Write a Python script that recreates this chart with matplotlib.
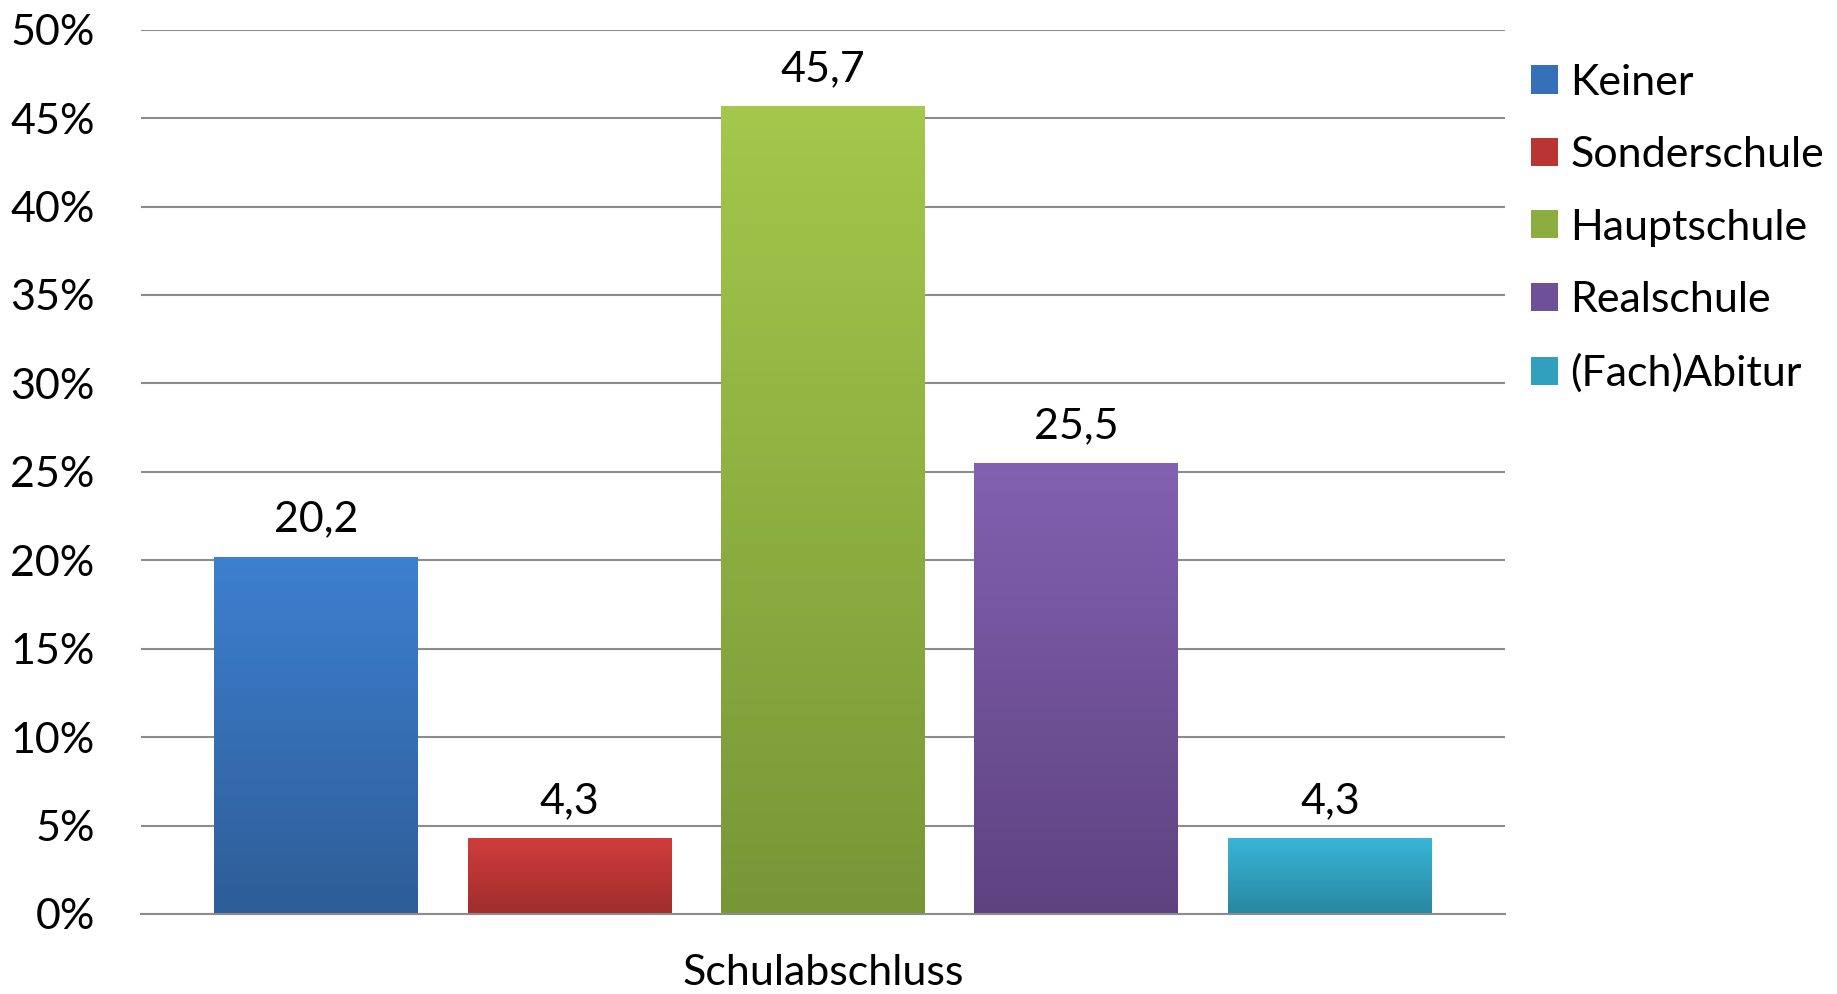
import numpy as np
import matplotlib
matplotlib.use("Agg")
import matplotlib.pyplot as plt
from matplotlib.colors import LinearSegmentedColormap
from matplotlib.patches import Patch

plt.rcParams['font.family'] = ['Lato', 'DejaVu Sans']

categories = ["Schulabschluss"]
series = ["Keiner", "Sonderschule", "Hauptschule", "Realschule", "(Fach)Abitur"]
values = [20.2, 4.3, 45.7, 25.5, 4.3]
yticks = [0, 5, 10, 15, 20, 25, 30, 35, 40, 45, 50]
top_colors = ["#3D80D0", "#D03D3B", "#A3C84B", "#8261B1", "#39B6D8"]
bottom_colors = ["#2E5D97", "#A02D2D", "#779737", "#5E4280", "#2887A1"]
legend_colors = ["#3670B8", "#B83534", "#8CAE40", "#6E5098", "#30A0BE"]

FS = 31

fig = plt.figure(figsize=(18.37, 9.94), dpi=100)
ax = fig.add_axes([0.0765, 0.0805, 0.8195 - 0.0765, 0.9701 - 0.0805])

step = 0.1857
width = 0.1494
xs = [(i - 2) * step for i in range(len(series))]
bars = ax.bar(xs, values, width=width, color=top_colors, zorder=2, linewidth=0)

grad = np.linspace(0, 1, 256).reshape(-1, 1)
for bar, tc, bc in zip(bars, top_colors, bottom_colors):
    x0, y0 = bar.get_x(), bar.get_y()
    w, h = bar.get_width(), bar.get_height()
    cmap = LinearSegmentedColormap.from_list("g", [bc, tc])
    im = ax.imshow(grad, extent=[x0, x0 + w, y0, y0 + h], origin="lower",
                   cmap=cmap, aspect="auto", zorder=2.5, interpolation="bilinear")
    im.set_clip_path(bar)

for x, v in zip(xs, values):
    ax.annotate(f"{v:.1f}".replace(".", ","), (x, v), xytext=(0, 13),
                textcoords="offset points", ha="center", va="bottom", fontsize=FS)

ax.set_xlim(-0.5, 0.5)
ax.set_ylim(0, 50)
ax.set_yticks(yticks)
ax.set_yticklabels([f"{t}%" for t in yticks], fontsize=FS)
ax.set_xticks([0])
ax.set_xticklabels(categories, fontsize=FS)
ax.tick_params(axis="y", length=0, pad=33)
ax.tick_params(axis="x", length=0, pad=29)
ax.yaxis.grid(True, color="#8C8C8C", linewidth=1.5, zorder=0)
ax.set_axisbelow(True)
for s in ["top", "right", "left"]:
    ax.spines[s].set_visible(False)
ax.spines["bottom"].set_color("#8C8C8C")
ax.spines["bottom"].set_linewidth(1.5)

handles = [Patch(facecolor=c, edgecolor="none") for c in legend_colors]
fig.legend(handles, series, loc="upper left", bbox_to_anchor=(0.8335, 0.936),
           frameon=False, fontsize=FS, handlelength=0.63, handleheight=0.63,
           handletextpad=0.28, labelspacing=0.80, borderaxespad=0, borderpad=0)

fig.savefig("out.png", dpi=100)
